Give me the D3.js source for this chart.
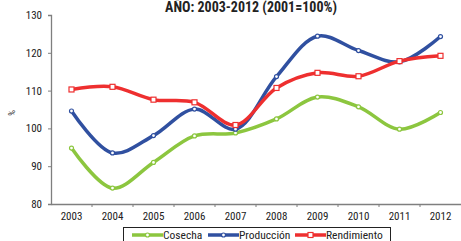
<!DOCTYPE html>
<html>
<head>
<meta charset="UTF-8">
<title>AÑO 2003-2012</title>
<script src="https://d3js.org/d3.v7.min.js"></script>
<style>
  body { margin: 0; background: #fff; }
  text { font-family: "Roboto Condensed", "DejaVu Sans Condensed", sans-serif; fill: #222; }
</style>
</head>
<body>
<svg id="chart"></svg>
<script>
  const years = ["2003","2004","2005","2006","2007","2008","2009","2010","2011","2012"];
  const cosecha = [94.8, 84.2, 91.0, 98.0, 98.8, 102.5, 108.3, 105.7, 99.8, 104.2];
  const produccion = [104.6, 93.5, 98.1, 105.1, 99.8, 113.7, 124.4, 120.6, 117.6, 124.3];
  const rendimiento = [110.3, 111.0, 107.6, 106.9, 100.9, 110.7, 114.7, 113.8, 117.8, 119.2];
  const yTicks = [80, 90, 100, 110, 120, 130];

  const width = 461, height = 241;
  const svg = d3.select("#chart").attr("width", width).attr("height", height);

  const x = d3.scaleBand().domain(years).range([51, 461]);
  const y = d3.scaleLinear().domain([80, 130]).range([204, 15]);

  // y axis
  const ya = svg.append("g").attr("transform", "translate(51,0)")
    .call(d3.axisLeft(y).tickValues(yTicks).tickSize(3).tickPadding(6));
  ya.select(".domain").attr("stroke", "#7f7f7f").attr("stroke-width", 1.3);
  ya.selectAll(".tick line").attr("stroke", "#7f7f7f");
  ya.selectAll("text").style("font-size", "11px");

  // x axis
  const xa = svg.append("g").attr("transform", "translate(0,204)")
    .call(d3.axisBottom(x).tickSize(0).tickPadding(8));
  xa.select(".domain").attr("stroke", "#7f7f7f").attr("stroke-width", 1.3);
  xa.selectAll("text").style("font-size", "11px");
  // category separators
  xa.selectAll(".sep").data(years.slice(1)).enter().append("line")
    .attr("x1", d => x(d)).attr("x2", d => x(d))
    .attr("y1", 0).attr("y2", 3).attr("stroke", "#7f7f7f");

  // title and y label
  svg.append("text").attr("x", 251).attr("y", 12).attr("text-anchor", "middle")
    .style("font-size", "14px").style("font-weight", "bold").text("AÑO: 2003-2012 (2001=100%)");
  svg.append("text").attr("transform", "translate(15,113) rotate(-90)")
    .attr("text-anchor", "middle").style("font-size", "9px").text("%");

  const series = [
    { name: "Cosecha", values: cosecha, color: "#8cc63f", shape: "circle" },
    { name: "Producción", values: produccion, color: "#3050a0", shape: "circle" },
    { name: "Rendimiento", values: rendimiento, color: "#ee2f2f", shape: "square" }
  ];

  const line = d3.line()
    .x((d, i) => x(years[i]) + x.bandwidth() / 2)
    .y(d => y(d))
    .curve(d3.curveCatmullRom.alpha(0.5));

  series.forEach(s => {
    const g = svg.append("g");
    g.append("path").datum(s.values).attr("d", line)
      .attr("fill", "none").attr("stroke", s.color).attr("stroke-width", 3.5);
    if (s.shape === "circle") {
      g.selectAll("circle").data(s.values).enter().append("circle")
        .attr("cx", (d, i) => x(years[i]) + x.bandwidth() / 2)
        .attr("cy", d => y(d)).attr("r", 2)
        .attr("fill", "#fff").attr("stroke", s.color).attr("stroke-width", 1.2);
    } else {
      g.selectAll("rect").data(s.values).enter().append("rect")
        .attr("x", (d, i) => x(years[i]) + x.bandwidth() / 2 - 2.5)
        .attr("y", d => y(d) - 2.5).attr("width", 5).attr("height", 5)
        .attr("fill", "#fff").attr("stroke", s.color).attr("stroke-width", 1.2);
    }
  });

  // legend
  const lg = svg.append("g");
  lg.append("rect").attr("x", 123.5).attr("y", 227.5).attr("width", 267).attr("height", 20)
    .attr("fill", "#fff").attr("stroke", "#222").attr("stroke-width", 1);
  const legendX = [132, 208, 295];
  series.forEach((s, i) => {
    const lx = legendX[i];
    lg.append("line").attr("x1", lx).attr("x2", lx + 31).attr("y1", 235).attr("y2", 235)
      .attr("stroke", s.color).attr("stroke-width", 3.5);
    if (s.shape === "circle") {
      lg.append("circle").attr("cx", lx + 15.5).attr("cy", 235).attr("r", 2)
        .attr("fill", "#fff").attr("stroke", s.color).attr("stroke-width", 1.2);
    } else {
      lg.append("rect").attr("x", lx + 13).attr("y", 232.5).attr("width", 5).attr("height", 5)
        .attr("fill", "#fff").attr("stroke", s.color).attr("stroke-width", 1.2);
    }
    lg.append("text").attr("x", lx + 31).attr("y", 239).style("font-size", "11.5px").text(s.name);
  });
</script>
</body>
</html>
